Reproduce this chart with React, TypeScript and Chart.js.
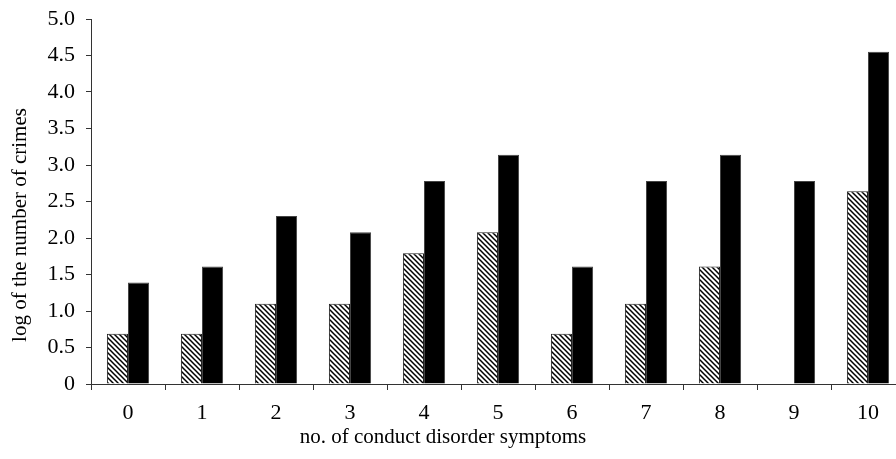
import React, { useEffect, useRef } from "react";
import { Chart, registerables } from "chart.js";

Chart.register(...registerables);

const categories = ["0", "1", "2", "3", "4", "5", "6", "7", "8", "9", "10"];
const hatchedValues: (number | null)[] = [0.69, 0.69, 1.1, 1.1, 1.79, 2.08, 0.69, 1.1, 1.61, null, 2.64];
const blackValues: number[] = [1.39, 1.61, 2.3, 2.08, 2.78, 3.14, 1.61, 2.78, 3.14, 2.78, 4.55];
const yTicks: number[] = [0, 0.5, 1, 1.5, 2, 2.5, 3, 3.5, 4, 4.5, 5];
const xTitle = "no. of conduct disorder symptoms";
const yTitle = "log of the number of crimes";

function makeHatch(): CanvasPattern | string {
  const s = 5;
  const c = document.createElement("canvas");
  c.width = s;
  c.height = s;
  const ctx = c.getContext("2d");
  if (!ctx) return "#fff";
  ctx.fillStyle = "#fff";
  ctx.fillRect(0, 0, s, s);
  ctx.strokeStyle = "#000";
  ctx.lineWidth = 1.5;
  ctx.beginPath();
  ctx.moveTo(-1, -1);
  ctx.lineTo(s + 1, s + 1);
  ctx.moveTo(-1, s - 1);
  ctx.lineTo(1, s + 1);
  ctx.moveTo(s - 1, -1);
  ctx.lineTo(s + 1, 1);
  ctx.stroke();
  const p = ctx.createPattern(c, "repeat");
  return p || "#fff";
}

export default function App() {
  const ref = useRef<HTMLCanvasElement | null>(null);

  useEffect(() => {
    if (!ref.current) return;
    const family = "'Liberation Serif', 'Times New Roman', serif";
    const tickFont = { family, size: 22 };
    const axisColor = "#333";

    const titlesPlugin = {
      id: "axisTitles",
      afterDraw(chart: any) {
        const ctx = chart.ctx;
        ctx.save();
        ctx.fillStyle = "#000";
        ctx.font = `21px ${family}`;
        ctx.textAlign = "center";
        ctx.textBaseline = "middle";
        ctx.fillText(xTitle, 443, 437);
        ctx.translate(20, 225);
        ctx.rotate(-Math.PI / 2);
        ctx.fillText(yTitle, 0, 0);
        ctx.restore();
      },
    };

    const chart = new Chart(ref.current, {
      type: "bar",
      data: {
        labels: categories,
        datasets: [
          {
            data: hatchedValues,
            backgroundColor: makeHatch() as any,
            borderColor: "#222",
            borderWidth: 1,
            barPercentage: 1,
            categoryPercentage: 0.57,
          },
          {
            data: blackValues,
            backgroundColor: "#000",
            borderColor: "#444",
            borderWidth: 1,
            barPercentage: 1,
            categoryPercentage: 0.57,
          },
        ],
      },
      plugins: [titlesPlugin],
      options: {
        responsive: false,
        animation: false,
        devicePixelRatio: 1,
        layout: { padding: { top: 19, right: 0, bottom: 0, left: 0 } },
        plugins: { legend: { display: false }, tooltip: { enabled: false }, title: { display: false } },
        scales: {
          x: {
            offset: true,
            grid: { offset: true, drawOnChartArea: false, drawTicks: true, tickLength: 6, color: axisColor },
            border: { display: true, color: axisColor, width: 1 },
            ticks: { color: "#000", font: tickFont, padding: 10, maxRotation: 0, autoSkip: false },
            afterFit: (s: any) => {
              s.height = 75;
              s.paddingLeft = 0;
              s.paddingRight = 0;
            },
          },
          y: {
            min: 0,
            max: 5,
            grid: { drawOnChartArea: false, drawTicks: true, tickLength: 5, color: axisColor },
            border: { display: true, color: axisColor, width: 1 },
            afterBuildTicks: (s: any) => { s.ticks = yTicks.map((v) => ({ value: v })); },
            ticks: {
              color: "#000",
              font: tickFont,
              padding: 11,
              callback: (v: any) => (Number(v) === 0 ? "0" : Number(v).toFixed(1)),
            },
            afterFit: (s: any) => {
              s.width = 91;
              s.paddingTop = 0;
              s.paddingBottom = 0;
            },
          },
        },
      },
    });
    return () => chart.destroy();
  }, []);

  return (
    <div style={{ position: "fixed", left: 0, top: 0, width: 896, height: 459, overflow: "hidden", background: "#fff" }}>
      <canvas ref={ref} width={905} height={459} style={{ width: 905, height: 459, display: "block" }} />
    </div>
  );
}
